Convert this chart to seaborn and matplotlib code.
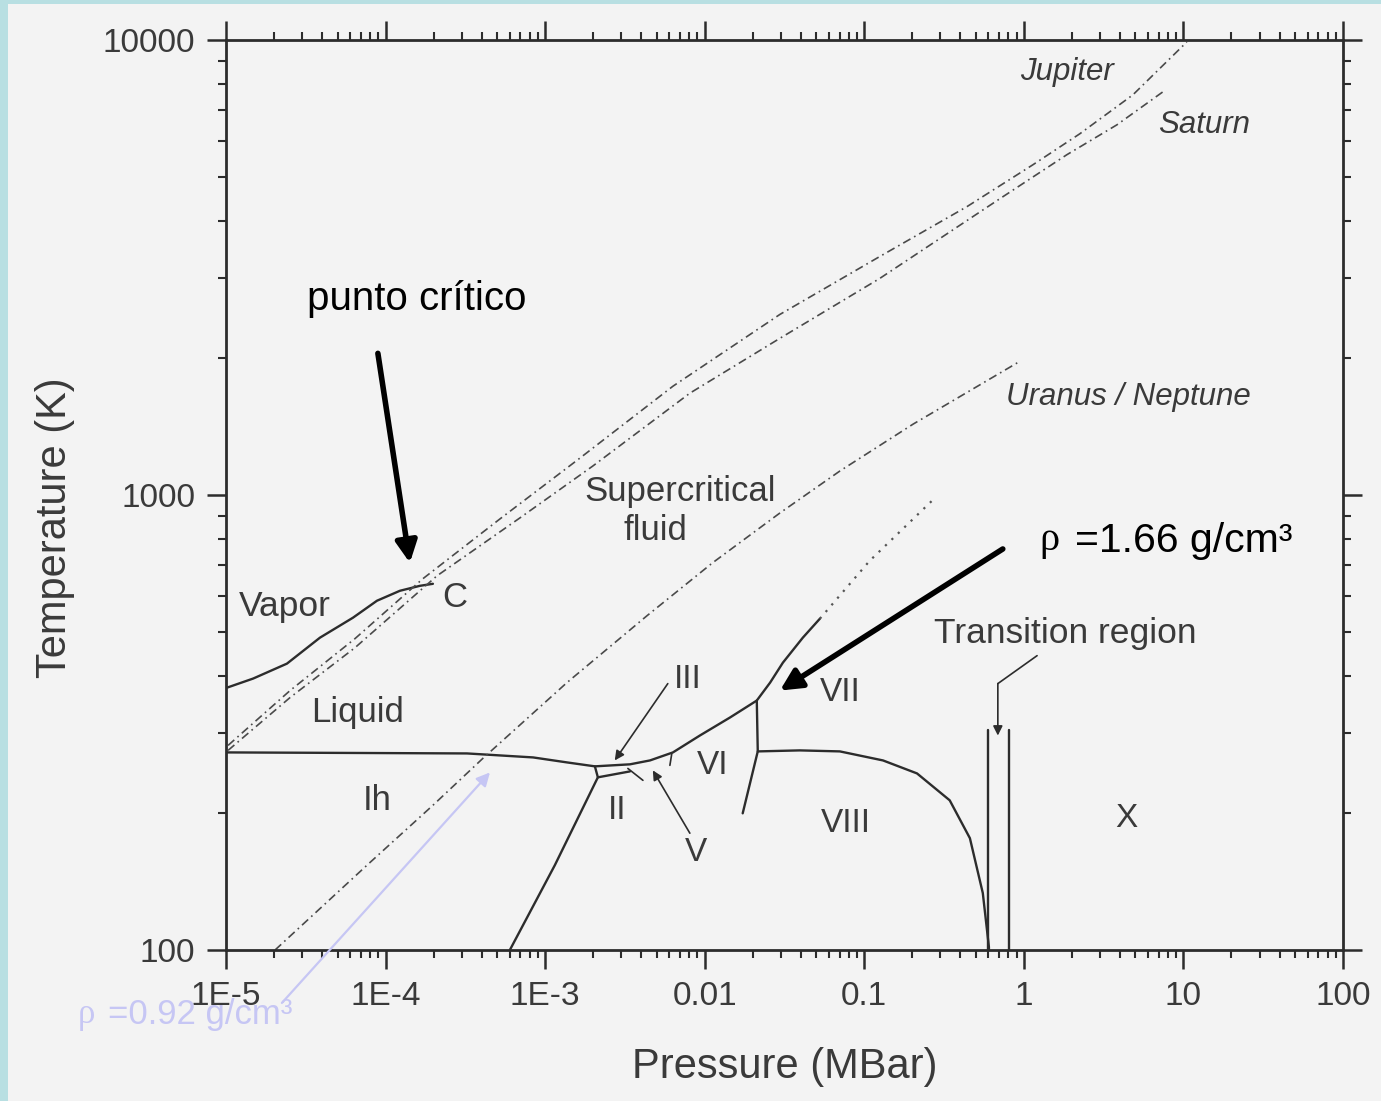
import numpy as np
import pandas as pd
import matplotlib
matplotlib.use("Agg")
import matplotlib.pyplot as plt
import seaborn as sns
from matplotlib.patches import Rectangle
from matplotlib.ticker import FixedLocator, FixedFormatter, LogLocator, NullFormatter

# ---------------- data (pressure in MBar, temperature in K) ----------------
vapor_P = [1.01e-5, 1.48e-5, 2.41e-5, 3.88e-5, 6.25e-5, 8.83e-5, 1.23e-4, 1.64e-4, 1.98e-4]
vapor_T = [377, 395, 426, 485.8, 537.5, 585.6, 615.9, 631.5, 638]

melt_P = [1.01e-5, 3.24e-4, 8.40e-4, 1.37e-3, 2.05e-3, 3.40e-3, 4.54e-3, 6.32e-3,
          9.33e-3, 1.44e-2, 2.12e-2, 2.57e-2, 3.09e-2, 4.12e-2, 5.27e-2]
melt_T = [271.8, 270.4, 265.0, 258.4, 253.3, 255.9, 261.0, 271.8,
          296.1, 324.3, 353.4, 387.0, 428.1, 485.8, 534.8]

melt_ext_P = [5.27e-2, 0.108, 0.277]
melt_ext_T = [534.8, 716.6, 985]

ih_ii_P = [2.05e-3, 2.14e-3, 1.15e-3, 6.01e-4]
ih_ii_T = [253.3, 239.6, 153.6, 100]

ii_iii_P = [2.14e-3, 3.40e-3]
ii_iii_T = [239.6, 246.9]

iii_v_P = [3.30e-3, 4.10e-3]
iii_v_T = [250.6, 236.0]

v_vi_P = [6.22e-3, 6.05e-3]
v_vi_T = [270.4, 254.6]

vi_vii_P = [2.12e-2, 2.15e-2, 1.73e-2]
vi_vii_T = [353.4, 273.2, 199.7]

vii_viii_P = [2.15e-2, 3.94e-2, 7.03e-2, 0.131, 0.214, 0.343, 0.459, 0.553, 0.604, 0.604]
vii_viii_T = [273.2, 274.6, 273.2, 261.0, 244.4, 213.3, 176.1, 133.4, 101.5, 100]

trans1_P = [0.594, 0.594]
trans2_P = [0.805, 0.805]
trans_T = [303.7, 100]

jupiter_P = [1.03e-5, 2.52e-5, 6.43e-5, 1.71e-4, 5.21e-4, 1.65e-3, 6.32e-3,
             2.96e-2, 0.125, 0.440, 1.14, 2.24, 4.82, 10.5]
jupiter_T = [281.6, 371.7, 483.4, 654.3, 886, 1205, 1734,
             2494, 3343, 4303, 5319, 6220, 7575, 9900]

saturn_P = [1.03e-5, 2.52e-5, 6.43e-5, 2.10e-4, 6.95e-4, 1.99e-3, 8.07e-3,
            2.96e-2, 0.125, 0.708, 1.86, 3.83, 7.43]
saturn_T = [274.6, 358.8, 461.7, 664.3, 890.6, 1158, 1674,
            2210, 2992, 4480, 5596, 6510, 7691]

uranus_P = [2.03e-5, 7.65e-5, 1.98e-4, 4.07e-4, 1.37e-3, 4.35e-3,
            1.12e-2, 2.96e-2, 7.03e-2, 0.202, 0.944]
uranus_T = [100, 153.6, 208.0, 263.7, 387.0, 542.9,
            709.5, 913, 1129, 1431, 1967]

x_ticks = [1e-5, 1e-4, 1e-3, 1e-2, 1e-1, 1, 10, 100]
x_tick_labels = ["1E-5", "1E-4", "1E-3", "0.01", "0.1", "1", "10", "100"]
y_ticks = [100, 1000, 10000]
y_tick_labels = ["100", "1000", "10000"]

# ---------------- style ----------------
sns.set_style("ticks")
plt.rcParams["font.family"] = ["Liberation Sans", "DejaVu Sans"]

INK = "#3a3a3a"
LINE = "#2c2c2c"
PAPER = "#f3f3f3"
BORDER = "#b8dfe2"
BLUE = "#c6c6f4"

fig = plt.figure(figsize=(13.81, 11.01), dpi=100)
fig.patch.set_facecolor(BORDER)
fig.add_artist(Rectangle((8 / 1381, 0), 1, 1 - 4 / 1101, transform=fig.transFigure,
                         facecolor=PAPER, edgecolor="none", zorder=-5))

ax = fig.add_axes([226 / 1381, 1 - 950 / 1101, 1117 / 1381, 910 / 1101])
ax.set_facecolor("none")
ax.set_xscale("log")
ax.set_yscale("log")


def curve(P, T, **kw):
    sns.lineplot(x=P, y=T, ax=ax, sort=False, estimator=None, legend=False, **kw)


solid = dict(color=LINE, lw=1.7, solid_joinstyle="round")
curve(vapor_P, vapor_T, **solid)
curve(melt_P, melt_T, **solid)
curve(ih_ii_P, ih_ii_T, **solid)
curve(ii_iii_P, ii_iii_T, **solid)
curve(iii_v_P, iii_v_T, color=LINE, lw=1.2)
curve(v_vi_P, v_vi_T, color=LINE, lw=1.2)
curve(vi_vii_P, vi_vii_T, **solid)
curve(vii_viii_P, vii_viii_T, **solid)
curve(trans1_P, trans_T, **solid)
curve(trans2_P, trans_T, **solid)
curve(melt_ext_P, melt_ext_T, color="#555555", lw=1.6, linestyle=(0, (1, 3)))

dashdot = dict(color="#4a4a4a", lw=1.2, linestyle=(0, (5, 2.5, 1, 2.5)))
curve(jupiter_P, jupiter_T, **dashdot)
curve(saturn_P, saturn_T, **dashdot)
curve(uranus_P, uranus_T, **dashdot)

ax.set_xlim(1e-5, 100)
ax.set_ylim(100, 10000)

# ---------------- ticks & spines ----------------
ax.xaxis.set_major_locator(FixedLocator(x_ticks))
ax.xaxis.set_major_formatter(FixedFormatter(x_tick_labels))
ax.yaxis.set_major_locator(FixedLocator(y_ticks))
ax.yaxis.set_major_formatter(FixedFormatter(y_tick_labels))
ax.xaxis.set_minor_locator(LogLocator(base=10, subs=np.arange(2, 10), numticks=20))
ax.yaxis.set_minor_locator(LogLocator(base=10, subs=np.arange(2, 10), numticks=20))
ax.xaxis.set_minor_formatter(NullFormatter())
ax.yaxis.set_minor_formatter(NullFormatter())

ax.tick_params(which="both", direction="out", top=True, right=True,
               labeltop=False, labelright=False, color=LINE)
ax.tick_params(which="major", length=14, width=1.8, labelsize=24, labelcolor=INK, pad=8)
ax.tick_params(which="minor", length=6, width=1.5)
for s in ax.spines.values():
    s.set_visible(True)
    s.set_linewidth(2.0)
    s.set_color(LINE)

ax.set_xlabel("Pressure (MBar)", fontsize=30, color=INK)
ax.set_ylabel("Temperature (K)", fontsize=30, color=INK)
ax.xaxis.label.set_va("center")
ax.yaxis.label.set_va("center")
ax.xaxis.set_label_coords(0.5004, -0.1286)
ax.yaxis.set_label_coords(-0.1531, 0.464)

# ---------------- region labels ----------------
labels = [
    ("Vapor", 2.34e-5, 568, 25.5, "normal"),
    ("Liquid", 6.71e-5, 332.6, 25, "normal"),
    ("Supercritical", 7.0e-3, 1020, 25, "normal"),
    ("fluid", 4.94e-3, 834, 25, "normal"),
    ("C", 2.72e-4, 594, 25, "normal"),
    ("Ih", 8.83e-5, 213.3, 25, "normal"),
    ("II", 2.82e-3, 202.8, 24, "normal"),
    ("III", 7.85e-3, 393, 24, "normal"),
    ("VI", 1.12e-2, 254.6, 24, "normal"),
    ("V", 8.81e-3, 164, 24, "normal"),
    ("VII", 7.03e-2, 368, 24, "normal"),
    ("VIII", 7.67e-2, 189.9, 24, "normal"),
    ("X", 4.42, 194.7, 24, "normal"),
    ("Transition region", 1.83, 495.6, 25.5, "normal"),
    ("Jupiter", 1.86, 8510, 22.5, "italic"),
    ("Saturn", 13.4, 6510, 22.5, "italic"),
    ("Uranus / Neptune", 4.49, 1640, 22.5, "italic"),
]
for txt, px, py, fs, st in labels:
    ax.text(px, py, txt, fontsize=fs, fontstyle=st, color=INK,
            ha="center", va="center")

# small pointer arrows inside the diagram
thin = dict(arrowstyle="-|>", lw=1.2, color=LINE, mutation_scale=14, shrinkA=0, shrinkB=0)
ax.annotate("", xy=(2.73e-3, 261), xytext=(5.87e-3, 385), arrowprops=thin)
ax.annotate("", xy=(4.73e-3, 248.2), xytext=(8.07e-3, 180.6), arrowprops=thin)
ax.plot([1.21, 0.687], [443.5, 385], color=LINE, lw=1.2)
ax.annotate("", xy=(0.687, 296), xytext=(0.687, 385), arrowprops=thin)

# ---------------- overlay annotations ----------------
ax.text(1.57e-4, 2690, "punto crítico", fontsize=29, color="black",
        ha="center", va="center")
ax.annotate("", xy=(1.42e-4, 709.5), xytext=(8.95e-5, 2048),
            arrowprops=dict(arrowstyle="-|>", lw=4, color="black",
                            mutation_scale=32, shrinkA=0, shrinkB=0))

ax.annotate("", xy=(2.96e-2, 371.7), xytext=(0.738, 761),
            arrowprops=dict(arrowstyle="-|>", lw=4, color="black",
                            mutation_scale=32, shrinkA=0, shrinkB=0))
ax.text(1.26, 793, "ρ", fontsize=29, color="black", family="Liberation Serif",
        ha="left", va="center")
ax.annotate("=1.66 g/cm³", xy=(1.26, 793), xytext=(25, 0), textcoords="offset points",
            fontsize=29.5, color="black", ha="left", va="center")

ax.annotate("", xy=(4.51e-4, 245.6), xytext=(2.24e-5, 76.5), annotation_clip=False,
            arrowprops=dict(arrowstyle="-|>", lw=1.6, color=BLUE,
                            mutation_scale=20, shrinkA=0, shrinkB=0, clip_on=False))
ax.text(1.18e-6, 72.0, "ρ", fontsize=25, color=BLUE, family="Liberation Serif",
        ha="left", va="center", clip_on=False)
ax.annotate("=0.92 g/cm³", xy=(1.18e-6, 72.0), xytext=(21.5, 0), textcoords="offset points",
            fontsize=25, color=BLUE, ha="left", va="center", annotation_clip=False)

fig.savefig("out.png", dpi=100, facecolor=fig.get_facecolor())
